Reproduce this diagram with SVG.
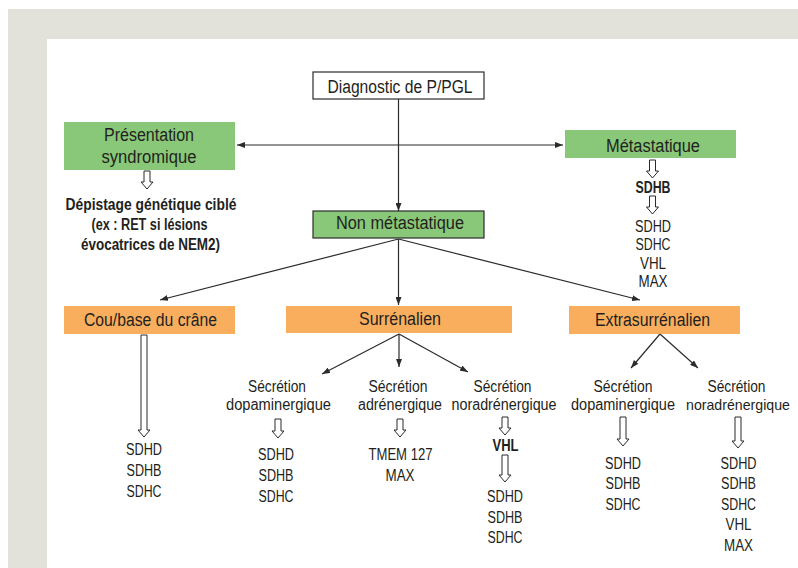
<svg xmlns="http://www.w3.org/2000/svg" width="798" height="568" viewBox="0 0 798 568">
<defs>
<marker id="ah" viewBox="0 0 8 6" refX="8" refY="3" markerWidth="8" markerHeight="6" markerUnits="userSpaceOnUse" orient="auto-start-reverse"><path d="M0,0 L8,3 L0,6 Z" fill="#2b2b2b"/></marker>
</defs>
<style>
.t{font-family:"Liberation Sans",Arial,sans-serif;fill:#231f20;text-anchor:middle}
.b{font-size:18px}
.s{font-size:16px}
.bd{font-weight:bold}
.green{fill:#88c878}
.orange{fill:#f9ae5e}
.c{stroke:#2b2b2b;stroke-width:1.2;fill:none;marker-end:url(#ah)}
.ba{fill:#fff;stroke:#2b2b2b;stroke-width:1}
</style>
<rect x="0" y="0" width="798" height="568" fill="#fff"/>
<rect x="8" y="9" width="790" height="559" fill="#e2e2da"/>
<rect x="47" y="39" width="751" height="529" fill="#fff"/>

<g id="connectors">
<line class="c" x1="398.5" y1="99" x2="398.5" y2="211"/>
<line class="c" x1="237" y1="145" x2="563" y2="145" style="marker-start:url(#ah)"/>
<line class="c" x1="398.5" y1="239" x2="160" y2="300"/>
<line class="c" x1="398.5" y1="239" x2="398.5" y2="305"/>
<line class="c" x1="398.5" y1="239" x2="640" y2="300"/>
<line class="c" x1="399" y1="334" x2="322" y2="374"/>
<line class="c" x1="399" y1="334" x2="399" y2="367"/>
<line class="c" x1="399" y1="334" x2="468" y2="372"/>
<line class="c" x1="660" y1="334" x2="631" y2="368"/>
<line class="c" x1="660" y1="334" x2="698" y2="368"/>
</g>

<g id="block-arrows">
<path class="ba" d="M144,171 H150 V182 H153 L147,189 L141,182 H144 Z"/>
<path class="ba" d="M649.5,160 H655.5 V171 H658.5 L652.5,178 L646.5,171 H649.5 Z"/>
<path class="ba" d="M649.5,196 H655.5 V207 H658.5 L652.5,214 L646.5,207 H649.5 Z"/>
<path class="ba" d="M141,335 H147 V430 H150 L144,437 L138,430 H141 Z"/>
<path class="ba" d="M275,419 H281 V431 H284 L278,438 L272,431 H275 Z"/>
<path class="ba" d="M397,419 H403 V430 H406 L400,437 L394,430 H397 Z"/>
<path class="ba" d="M502,417 H508 V428 H511 L505,435 L499,428 H502 Z"/>
<path class="ba" d="M502,455 H508 V475 H511 L505,482 L499,475 H502 Z"/>
<path class="ba" d="M620,417 H626 V439 H629 L623,446 L617,439 H620 Z"/>
<path class="ba" d="M735,417 H741 V441 H744 L738,448 L732,441 H735 Z"/>
</g>

<g id="diagnostic">
<rect x="313" y="72" width="171" height="27" fill="#fff" stroke="#2b2b2b" stroke-width="1.2"/>
<text class="t b" x="400" y="92.5" textLength="145" lengthAdjust="spacingAndGlyphs">Diagnostic de P/PGL</text>
</g>

<g id="presentation">
<rect class="green" x="64" y="122" width="171" height="48"/>
<text class="t b" x="149" y="140.5" textLength="90" lengthAdjust="spacingAndGlyphs">Présentation</text>
<text class="t b" x="149" y="163" textLength="95" lengthAdjust="spacingAndGlyphs">syndromique</text>
</g>

<g id="depistage">
<text class="t s bd" x="151" y="210" textLength="171" lengthAdjust="spacingAndGlyphs">Dépistage génétique ciblé</text>
<text class="t s bd" x="149.5" y="230" textLength="116" lengthAdjust="spacingAndGlyphs">(ex : RET si lésions</text>
<text class="t s bd" x="150.5" y="250" textLength="139" lengthAdjust="spacingAndGlyphs">évocatrices de NEM2)</text>
</g>

<g id="metastatique">
<rect class="green" x="565" y="130" width="171" height="28"/>
<text class="t b" x="653" y="151.5" textLength="94" lengthAdjust="spacingAndGlyphs">Métastatique</text>
</g>

<g id="meta-genes">
<text class="t s bd" x="653" y="193" textLength="35" lengthAdjust="spacingAndGlyphs">SDHB</text>
<text class="t s" x="653" y="231.5" textLength="36" lengthAdjust="spacingAndGlyphs">SDHD</text>
<text class="t s" x="653" y="250" textLength="35" lengthAdjust="spacingAndGlyphs">SDHC</text>
<text class="t s" x="653" y="268.5" textLength="26" lengthAdjust="spacingAndGlyphs">VHL</text>
<text class="t s" x="653" y="286.5" textLength="29" lengthAdjust="spacingAndGlyphs">MAX</text>
</g>

<g id="non-metastatique">
<rect class="green" x="313" y="211" width="171" height="27" stroke="#2b2b2b" stroke-width="1.2"/>
<text class="t b" x="400" y="228.5" textLength="128" lengthAdjust="spacingAndGlyphs">Non métastatique</text>
</g>

<g id="cou">
<rect class="orange" x="64" y="306" width="171" height="28"/>
<text class="t b" x="150.5" y="326" textLength="133" lengthAdjust="spacingAndGlyphs">Cou/base du crâne</text>
</g>

<g id="surrenalien">
<rect class="orange" x="286" y="306" width="226" height="27"/>
<text class="t b" x="400" y="325" textLength="82" lengthAdjust="spacingAndGlyphs">Surrénalien</text>
</g>

<g id="extrasurrenalien">
<rect class="orange" x="569" y="306" width="171" height="28"/>
<text class="t b" x="652.5" y="325.5" textLength="115" lengthAdjust="spacingAndGlyphs">Extrasurrénalien</text>
</g>

<g id="cou-genes">
<text class="t s" x="144" y="455" textLength="36" lengthAdjust="spacingAndGlyphs">SDHD</text>
<text class="t s" x="144" y="476" textLength="35" lengthAdjust="spacingAndGlyphs">SDHB</text>
<text class="t s" x="144" y="497" textLength="35" lengthAdjust="spacingAndGlyphs">SDHC</text>
</g>

<g id="surr-dopa">
<text class="t s" x="277" y="391.5" textLength="58" lengthAdjust="spacingAndGlyphs">Sécrétion</text>
<text class="t s" x="278.5" y="409.5" textLength="105" lengthAdjust="spacingAndGlyphs">dopaminergique</text>
<text class="t s" x="276" y="460" textLength="36" lengthAdjust="spacingAndGlyphs">SDHD</text>
<text class="t s" x="276" y="481" textLength="35" lengthAdjust="spacingAndGlyphs">SDHB</text>
<text class="t s" x="276" y="502" textLength="35" lengthAdjust="spacingAndGlyphs">SDHC</text>
</g>

<g id="surr-adr">
<text class="t s" x="398" y="391.5" textLength="59" lengthAdjust="spacingAndGlyphs">Sécrétion</text>
<text class="t s" x="400" y="409.5" textLength="84" lengthAdjust="spacingAndGlyphs">adrénergique</text>
<text class="t s" x="400.5" y="460" textLength="64" lengthAdjust="spacingAndGlyphs">TMEM 127</text>
<text class="t s" x="400" y="480.5" textLength="29" lengthAdjust="spacingAndGlyphs">MAX</text>
</g>

<g id="surr-nor">
<text class="t s" x="502.5" y="391.5" textLength="58" lengthAdjust="spacingAndGlyphs">Sécrétion</text>
<text class="t s" x="504" y="409.5" textLength="105" lengthAdjust="spacingAndGlyphs">noradrénergique</text>
<text class="t s bd" x="505.5" y="451" textLength="26" lengthAdjust="spacingAndGlyphs">VHL</text>
<text class="t s" x="505" y="502" textLength="36" lengthAdjust="spacingAndGlyphs">SDHD</text>
<text class="t s" x="505" y="523" textLength="35" lengthAdjust="spacingAndGlyphs">SDHB</text>
<text class="t s" x="505" y="543" textLength="35" lengthAdjust="spacingAndGlyphs">SDHC</text>
</g>

<g id="extra-dopa">
<text class="t s" x="623" y="391.5" textLength="59" lengthAdjust="spacingAndGlyphs">Sécrétion</text>
<text class="t s" x="623" y="409.5" textLength="104" lengthAdjust="spacingAndGlyphs">dopaminergique</text>
<text class="t s" x="623" y="468.5" textLength="36" lengthAdjust="spacingAndGlyphs">SDHD</text>
<text class="t s" x="623" y="489" textLength="35" lengthAdjust="spacingAndGlyphs">SDHB</text>
<text class="t s" x="623" y="509.5" textLength="35" lengthAdjust="spacingAndGlyphs">SDHC</text>
</g>

<g id="extra-nor">
<text class="t s" x="736.5" y="391.5" textLength="58" lengthAdjust="spacingAndGlyphs">Sécrétion</text>
<text class="t" x="738" y="409.5" font-size="15" textLength="104" lengthAdjust="spacingAndGlyphs">noradrénergique</text>
<text class="t s" x="738.5" y="468.5" textLength="36" lengthAdjust="spacingAndGlyphs">SDHD</text>
<text class="t s" x="738.5" y="489" textLength="35" lengthAdjust="spacingAndGlyphs">SDHB</text>
<text class="t s" x="738.5" y="509.5" textLength="35" lengthAdjust="spacingAndGlyphs">SDHC</text>
<text class="t s" x="738.5" y="530" textLength="26" lengthAdjust="spacingAndGlyphs">VHL</text>
<text class="t s" x="738.5" y="550.5" textLength="29" lengthAdjust="spacingAndGlyphs">MAX</text>
</g>
</svg>
